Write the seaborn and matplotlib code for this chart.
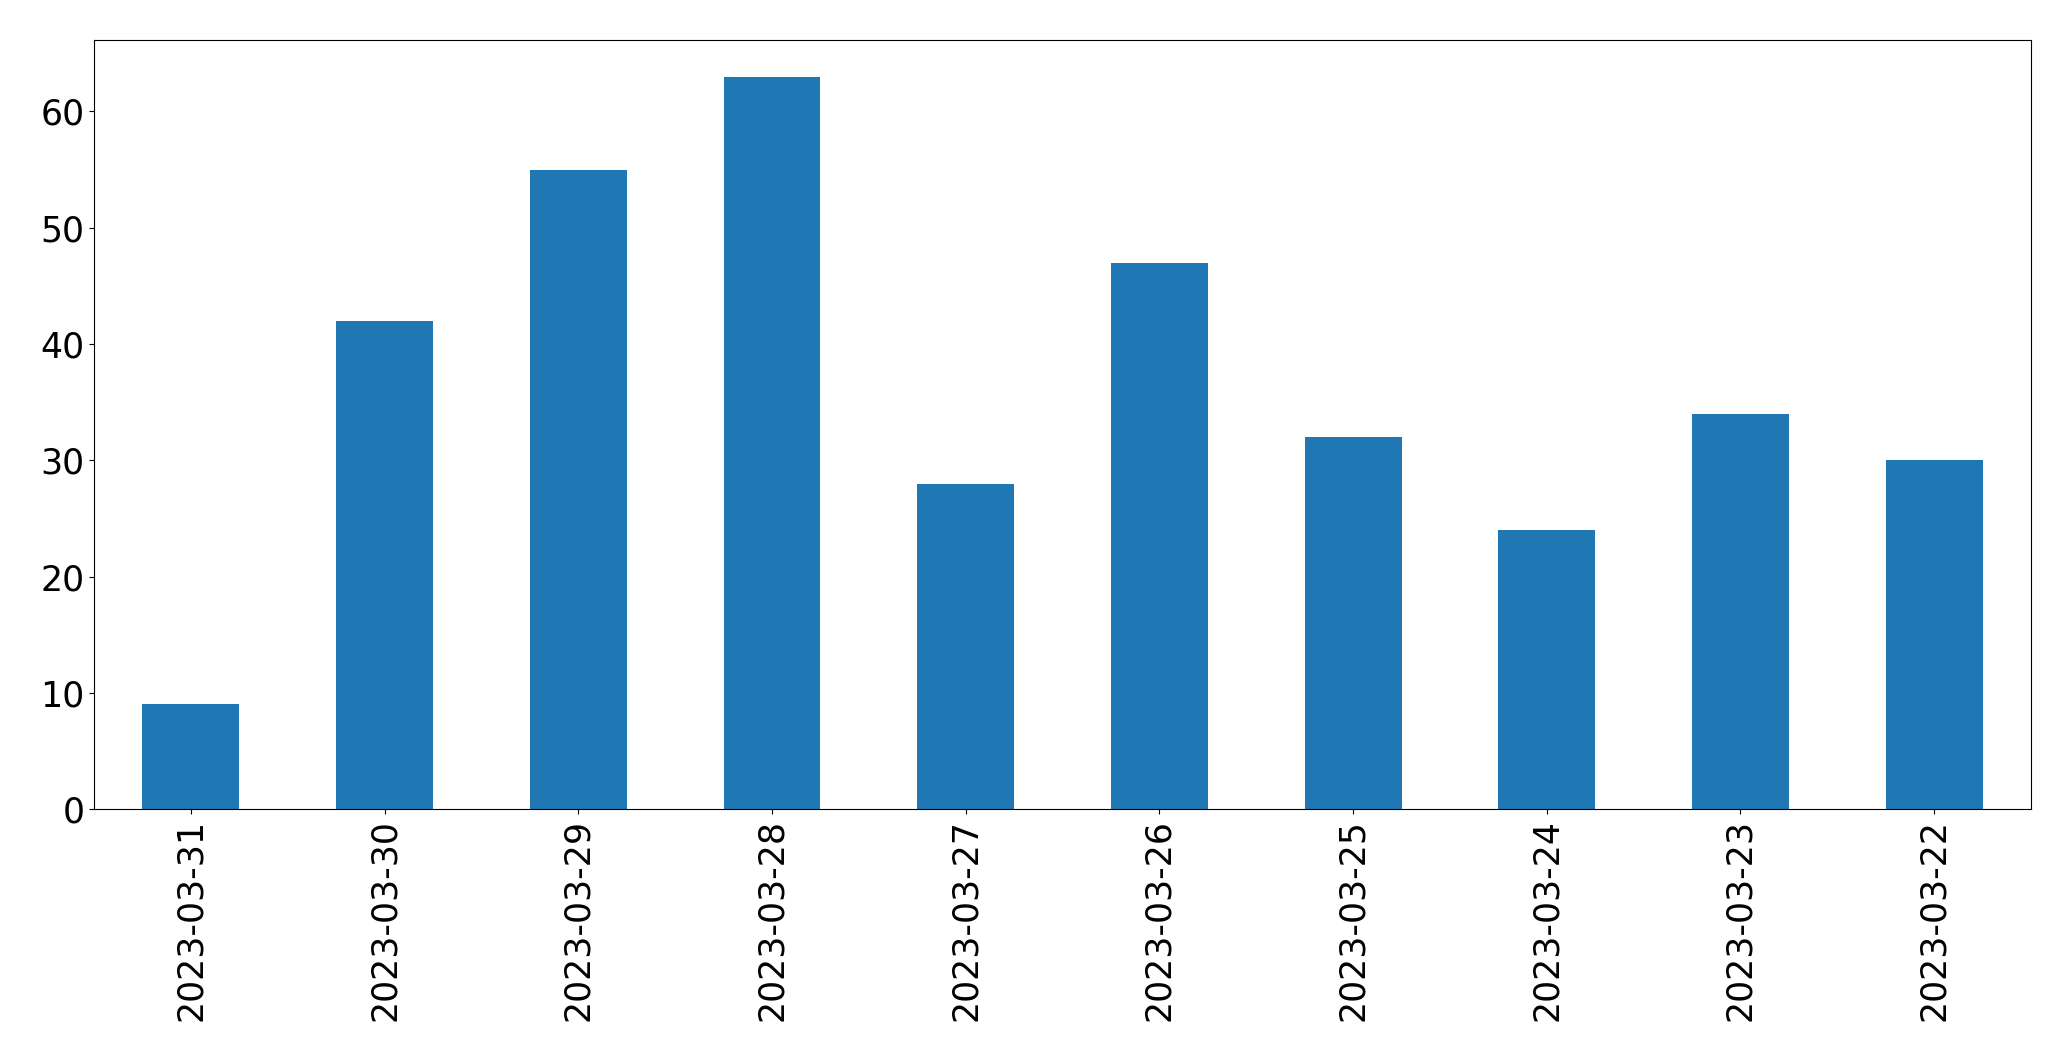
import matplotlib
matplotlib.use("Agg")
import matplotlib.pyplot as plt
import pandas as pd
import seaborn as sns

dates = ["2023-03-31", "2023-03-30", "2023-03-29", "2023-03-28", "2023-03-27",
         "2023-03-26", "2023-03-25", "2023-03-24", "2023-03-23", "2023-03-22"]
counts = [9, 42, 55, 63, 28, 47, 32, 24, 34, 30]

df = pd.DataFrame({"date": dates, "count": counts})

fig = plt.figure(figsize=(20.71, 10.61), dpi=100)
ax = fig.add_axes([0.0454, 0.2375, 0.9353, 0.7248])

sns.barplot(data=df, x="date", y="count", order=dates, color="#1f77b4",
            saturation=1, width=0.5, linewidth=0, ax=ax)

ax.set_xlim(-0.5, len(dates) - 0.5)
ax.set_ylim(0, max(counts) * 1.05)
ax.set_xlabel("")
ax.set_ylabel("")
ax.tick_params(axis="both", labelsize=25)
ax.tick_params(axis="x", labelrotation=90)

fig.savefig("out.png", dpi=100)
